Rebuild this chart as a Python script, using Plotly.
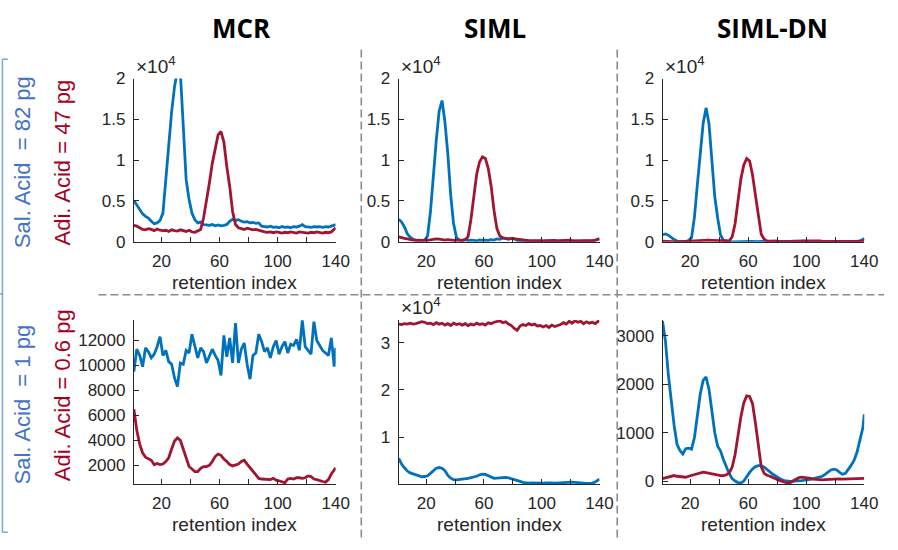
import plotly.graph_objects as go

# ---------------- data ----------------
retention_index = [1, 3, 5, 7, 9, 11, 13, 15, 17, 19, 21, 23, 25, 27, 29, 31, 33, 35, 37, 39,
                   41, 43, 45, 47, 49, 51, 53, 55, 57, 59, 61, 63, 65, 67, 69, 71, 73, 75, 77, 79,
                   81, 83, 85, 87, 89, 91, 93, 95, 97, 99, 101, 103, 105, 107, 109, 111, 113, 115,
                   117, 119, 121, 123, 125, 127, 129, 131, 133, 135, 137, 139, 140]

# high concentration row (Sal. Acid = 82 pg, Adi. Acid = 47 pg)
mcr_high_sal = [5050, 4500, 4100, 3400, 3100, 2900, 2500, 2200, 2300, 2600,
                3500, 8000, 12000, 15900, 19000, 21000, 20800, 13500, 7600, 5200,
                3500, 2700, 2300, 2400, 2100, 2050, 2000, 2100, 1950, 2050,
                1950, 2000, 2100, 2500, 2750, 2600, 2700, 2500, 2400, 2450,
                2300, 2350, 2250, 2300, 1900, 1850, 1800, 1900, 1750, 1800,
                1700, 1850, 1750, 1800, 1700, 1850, 1800, 1900, 2100, 1850,
                1800, 1750, 1850, 1800, 1850, 1750, 1850, 1800, 1900, 2100,
                2100]
mcr_high_adi = [2000, 1900, 1700, 1500, 1450, 1600, 1500, 1350, 1550, 1400,
                1350, 1400, 1250, 1450, 1350, 1300, 1450, 1350, 1250, 1400,
                1200, 1150, 1300, 1500, 2900, 4900, 7200, 9600, 11400, 13100,
                13500, 12200, 9200, 6800, 3700, 2100, 1700, 1600, 1500, 1650,
                1550, 1450, 1500, 1400, 1250, 1200, 1150, 1200, 1100, 1200,
                1150, 1050, 1150, 1100, 1200, 1100, 1050, 1200, 1150, 1100,
                1050, 1150, 1100, 1200, 1100, 1050, 1150, 1100, 1200, 1500,
                1700]
siml_high_sal = [2740, 2400, 1800, 950, 550, 300, 200, 150, 150, 200,
                 700, 3700, 8400, 12400, 16000, 17300, 14700, 10800, 5700, 2200,
                 500, 200, 150, 250, 150, 200, 150, 100, 200, 150,
                 200, 150, 250, 200, 350, 300, 450, 350, 300, 400,
                 350, 150, 100, 100, 50, 100, 50, 80, 60, 100,
                 50, 80, 60, 100, 50, 80, 100, 60, 80, 120,
                 80, 60, 100, 80, 60, 100, 80, 60, 150, 300,
                 400]
siml_high_adi = [600, 450, 400, 350, 250, 200, 150, 200, 150, 200,
                 150, 200, 250, 350, 300, 250, 200, 250, 200, 150,
                 200, 150, 150, 250, 600, 2700, 5900, 8300, 9800, 10400,
                 10200, 9000, 6800, 3800, 1600, 700, 450, 400, 350, 400,
                 350, 300, 200, 150, 100, 120, 100, 130, 100, 120,
                 100, 130, 100, 120, 150, 100, 130, 100, 150, 200,
                 130, 100, 130, 100, 120, 100, 150, 120, 200, 300,
                 350]
simldn_high_sal = [850, 950, 800, 500, 250, 80, 0, -30, 0, 150,
                   500, 3000, 7000, 11000, 14500, 16400, 14500, 10000, 5500, 2900,
                   800, 150, 30, 0, -20, 0, 20, 0, -10, 20,
                   50, 30, 0, 20, 40, 60, 80, 60, 30, 50,
                   20, 0, -20, 0, 30, 50, 80, 100, 80, 60,
                   40, 20, 0, -20, 0, 20, 40, 60, 50, 30,
                   20, 0, 20, 40, 30, 10, 0, 20, 100, 250,
                   400]
simldn_high_adi = [50, 20, 0, -30, -40, -20, 0, 20, 50, 80,
                   120, 150, 180, 200, 220, 210, 190, 170, 160, 150,
                   120, 80, 50, 100, 600, 2200, 5000, 7700, 9400, 10200,
                   9900, 8200, 5700, 3000, 900, 300, 100, 50, 80, 60,
                   30, 0, -20, 0, 20, 50, 60, 40, 60, 80,
                   100, 80, 60, 80, 100, 60, 40, 20, 0, -10,
                   0, 20, 40, 60, 80, 60, 40, 20, 40, 60,
                   70]

# low concentration row (Sal. Acid = 1 pg, Adi. Acid = 0.6 pg)
mcr_low_sal = [9500, 11300, 10800, 9900, 11400, 11100, 10600, 10900, 11500, 12300,
               10800, 11200, 10300, 10100, 9000, 8300, 10200, 10100, 11200, 11000,
               12500, 11500, 10600, 11400, 11100, 10200, 10700, 11300, 10800, 10400,
               9200, 12400, 10700, 12200, 10200, 13400, 10200, 11300, 11800, 10100,
               8900, 10800, 11000, 12500, 11900, 11100, 11400, 10600, 11500, 12000,
               10900, 11500, 11900, 11000, 11700, 11600, 12100, 11200, 13600, 11500,
               11200, 10900, 13500, 12000, 11600, 11200, 11000, 10800, 12200, 9900,
               11400]
mcr_low_adi = [6500, 4800, 3700, 3000, 2650, 2550, 2400, 2050, 2150, 2050,
               2100, 2300, 2600, 3300, 3950, 4200, 4000, 3300, 2500, 1900,
               1700, 1500, 1500, 1750, 1900, 1900, 2000, 2300, 2700, 2900,
               2800, 2500, 2300, 2050, 1950, 2000, 2100, 2300, 2400, 2100,
               1800, 1550, 1200, 950, 900, 900, 850, 850, 950, 800,
               760, 650, 600, 900, 950, 900, 1000, 1000, 950, 1000,
               1150, 1100, 900, 850, 750, 700, 650, 850, 1300, 1650,
               1800]
siml_low_sal = [5500, 4300, 3500, 2800, 2400, 2200, 1900, 1700, 1600, 1650,
                1800, 2300, 2900, 3400, 3550, 3400, 2900, 1900, 1300, 1000,
                950, 1000, 1050, 1100, 1250, 1400, 1500, 1700, 2000, 2150,
                2100, 1800, 1400, 1250, 1300, 1400, 1400, 1450, 1350, 1200,
                1000, 800, 600, 400, 300, 250, 300, 250, 200, 300,
                250, 300, 350, 300, 250, 300, 350, 300, 400, 350,
                450, 400, 300, 350, 250, 200, 150, 250, 500, 900,
                1100]
siml_low_adi = [33900, 33800, 34000, 33900, 34100, 33900, 34000, 34200, 34400, 34300,
                34000, 34100, 33800, 34200, 33900, 34100, 33700, 34000, 33600, 34100,
                33800, 34000, 33700, 34000, 33600, 33900, 33700, 34100, 33800, 34000,
                33700, 34200, 34000, 34300, 34400, 34600, 34200, 34400, 33900, 33600,
                33000, 32600, 33500, 33800, 33600, 34000, 33700, 33900, 33500, 33600,
                33300, 33600, 33200, 33700, 33400, 33600, 33800, 34200, 33900, 34500,
                34100, 34600, 34300, 34500, 34000, 34400, 34100, 34300, 34000, 34500,
                34600]
simldn_low_sal = [3300, 2900, 2200, 1650, 1150, 760, 630, 560, 670, 680,
                  660, 900, 1350, 1800, 2080, 2150, 1900, 1400, 1000, 720,
                  620, 440, 280, 150, 50, 0, -30, -40, 0, 100,
                  180, 250, 300, 320, 320, 290, 230, 190, 140, 100,
                  60, 30, 10, 0, -5, 0, 0, 0, 10, 20,
                  20, 35, 50, 70, 90, 100, 140, 190, 230, 245,
                  230, 180, 140, 160, 240, 330, 430, 600, 850, 1100,
                  1380]
simldn_low_adi = [50, 70, 85, 100, 115, 100, 90, 75, 80, 100,
                  120, 140, 160, 180, 185, 175, 160, 145, 130, 120,
                  115, 115, 130, 170, 290, 550, 950, 1330, 1620, 1760,
                  1750, 1600, 1200, 700, 300, 160, 120, 100, 70, 50,
                  20, 0, -20, -40, -30, 0, 40, 70, 80, 75,
                  70, 55, 40, 30, 25, 25, 30, 35, 40, 40,
                  45, 45, 40, 40, 45, 45, 50, 50, 50, 55,
                  55]

column_titles = ["MCR", "SIML", "SIML-DN"]
x_tickvals = [20, 60, 100, 140]
x_ticktext = ["20", "60", "100", "140"]
x_minor_tickvals = [40, 80, 120]
top_tickvals = [0, 5000, 10000, 15000, 20000]
top_ticktext = ["0", "0.5", "1", "1.5", "2"]
mcr_low_tickvals = [2000, 4000, 6000, 8000, 10000, 12000]
siml_low_tickvals = [10000, 20000, 30000]
siml_low_ticktext = ["1", "2", "3"]
simldn_low_tickvals = [0, 1000, 2000, 3000]

# ---------------- layout helpers ----------------
W, H = 898, 550
def px(x):
    return x / W
def py(y):
    return 1 - y / H

BLUE = "#0072BD"
RED = "#A2142F"
AX = "#262626"
TICKFONT = dict(family="Liberation Sans, Arial, sans-serif", size=17, color=AX)

col_px = [(136, 341), (405, 609), (673, 878)]
row_px = [(72, 241), (322, 492)]

panels = [
    (mcr_high_sal, mcr_high_adi, [0, 20000], top_tickvals, top_ticktext),
    (siml_high_sal, siml_high_adi, [0, 20000], top_tickvals, top_ticktext),
    (simldn_high_sal, simldn_high_adi, [0, 20000], top_tickvals, top_ticktext),
    (mcr_low_sal, mcr_low_adi, [500, 13650], mcr_low_tickvals, [str(v) for v in mcr_low_tickvals]),
    (siml_low_sal, siml_low_adi, [60, 34800], siml_low_tickvals, siml_low_ticktext),
    (simldn_low_sal, simldn_low_adi, [-60, 3330], simldn_low_tickvals, [str(v) for v in simldn_low_tickvals]),
]

fig = go.Figure()
layout = dict(width=W, height=H, margin=dict(l=0, r=0, t=0, b=0),
              paper_bgcolor="white", plot_bgcolor="white", showlegend=False)

for i, (sal, adi, yr, tv, tt) in enumerate(panels):
    r, c = divmod(i, 3)
    n = "" if i == 0 else str(i + 1)
    xa, ya = "x" + n, "y" + n
    fig.add_trace(go.Scatter(x=retention_index, y=sal, mode="lines", xaxis=xa, yaxis=ya,
                             line=dict(color=BLUE, width=2.8)))
    fig.add_trace(go.Scatter(x=retention_index, y=adi, mode="lines", xaxis=xa, yaxis=ya,
                             line=dict(color=RED, width=2.8)))
    x0, x1 = col_px[c]
    y0, y1 = row_px[r]
    layout["xaxis" + n] = dict(domain=[px(x0), px(x1)], anchor=ya, range=[1, 140],
                               tickmode="array", tickvals=x_tickvals, ticktext=x_ticktext,
                               ticks="inside", ticklen=5, tickcolor=AX,
                               minor=dict(tickmode="array", tickvals=x_minor_tickvals,
                                          ticks="inside", ticklen=5, tickcolor=AX, showgrid=False),
                               showline=True, linecolor=AX,
                               linewidth=1, showgrid=False, zeroline=False,
                               tickfont=TICKFONT, ticklabelstandoff=4)
    layout["yaxis" + n] = dict(domain=[py(y1), py(y0)], anchor=xa, range=yr,
                               tickmode="array", tickvals=tv, ticktext=tt, ticks="inside",
                               ticklen=5, tickcolor=AX, showline=True, linecolor=AX,
                               linewidth=1, showgrid=False, zeroline=False,
                               tickfont=TICKFONT, ticklabelstandoff=4)

annotations = []
# column titles
for title, xc in zip(column_titles, [245, 503, 785]):
    annotations.append(dict(text="<b>" + title + "</b>", x=px(xc), y=py(20), xref="paper", yref="paper",
                            showarrow=False, xanchor="center", yanchor="middle",
                            font=dict(family="Open Sans, sans-serif", size=26, color="black")))
# axis titles
for r, yc in enumerate([283, 534]):
    for c in range(3):
        xc = (col_px[c][0] + col_px[c][1]) / 2
        annotations.append(dict(text="retention index", x=px(xc), y=py(yc), xref="paper", yref="paper",
                                showarrow=False, xanchor="center", yanchor="middle",
                                font=dict(family="Liberation Sans, Arial, sans-serif", size=19, color=AX)))
# x10^4 exponent labels
for xl, yc in [(136, 58), (405, 58), (673, 58), (405, 308)]:
    annotations.append(dict(text="×10<sup>4</sup>", x=px(xl), y=py(yc), xref="paper", yref="paper",
                            showarrow=False, xanchor="left", yanchor="middle",
                            font=dict(family="Liberation Sans, Arial, sans-serif", size=19, color=AX)))
# row labels
row_labels = [("Sal. Acid  = 82 pg", "#4472C4", 23, 159), ("Adi. Acid = 47 pg", "#A8001C", 63, 159),
              ("Sal. Acid  = 1 pg", "#4472C4", 23, 410), ("Adi. Acid = 0.6 pg", "#A8001C", 63, 400)]
for txt, col, xc, yc in row_labels:
    annotations.append(dict(text=txt, x=px(xc), y=py(yc), xref="paper", yref="paper",
                            showarrow=False, xanchor="center", yanchor="middle", textangle=-90,
                            font=dict(family="Liberation Sans, Arial, sans-serif", size=22, color=col)))
layout["annotations"] = annotations

DASH = dict(color="#8C8C8C", width=1.6, dash="8px,4px")
BR = dict(color="#7AA5DD", width=1.5)
shapes = [
    dict(type="line", xref="paper", yref="paper", x0=px(100), x1=px(898), y0=py(296), y1=py(296), line=DASH),
    dict(type="line", xref="paper", yref="paper", x0=px(367), x1=px(367), y0=py(42), y1=py(550), line=DASH),
    dict(type="line", xref="paper", yref="paper", x0=px(627), x1=px(627), y0=py(42), y1=py(550), line=DASH),
    dict(type="line", xref="paper", yref="paper", x0=px(2.5), x1=px(2.5), y0=py(52), y1=py(542), line=BR),
    dict(type="line", xref="paper", yref="paper", x0=px(2.5), x1=px(8), y0=py(52), y1=py(52), line=BR),
    dict(type="line", xref="paper", yref="paper", x0=px(2.5), x1=px(8), y0=py(542), y1=py(542), line=BR),
    dict(type="line", xref="paper", yref="paper", x0=px(0), x1=px(2.5), y0=py(295), y1=py(295), line=BR),
]
layout["shapes"] = shapes

fig.update_layout(**layout)
fig.write_html("out.html")
